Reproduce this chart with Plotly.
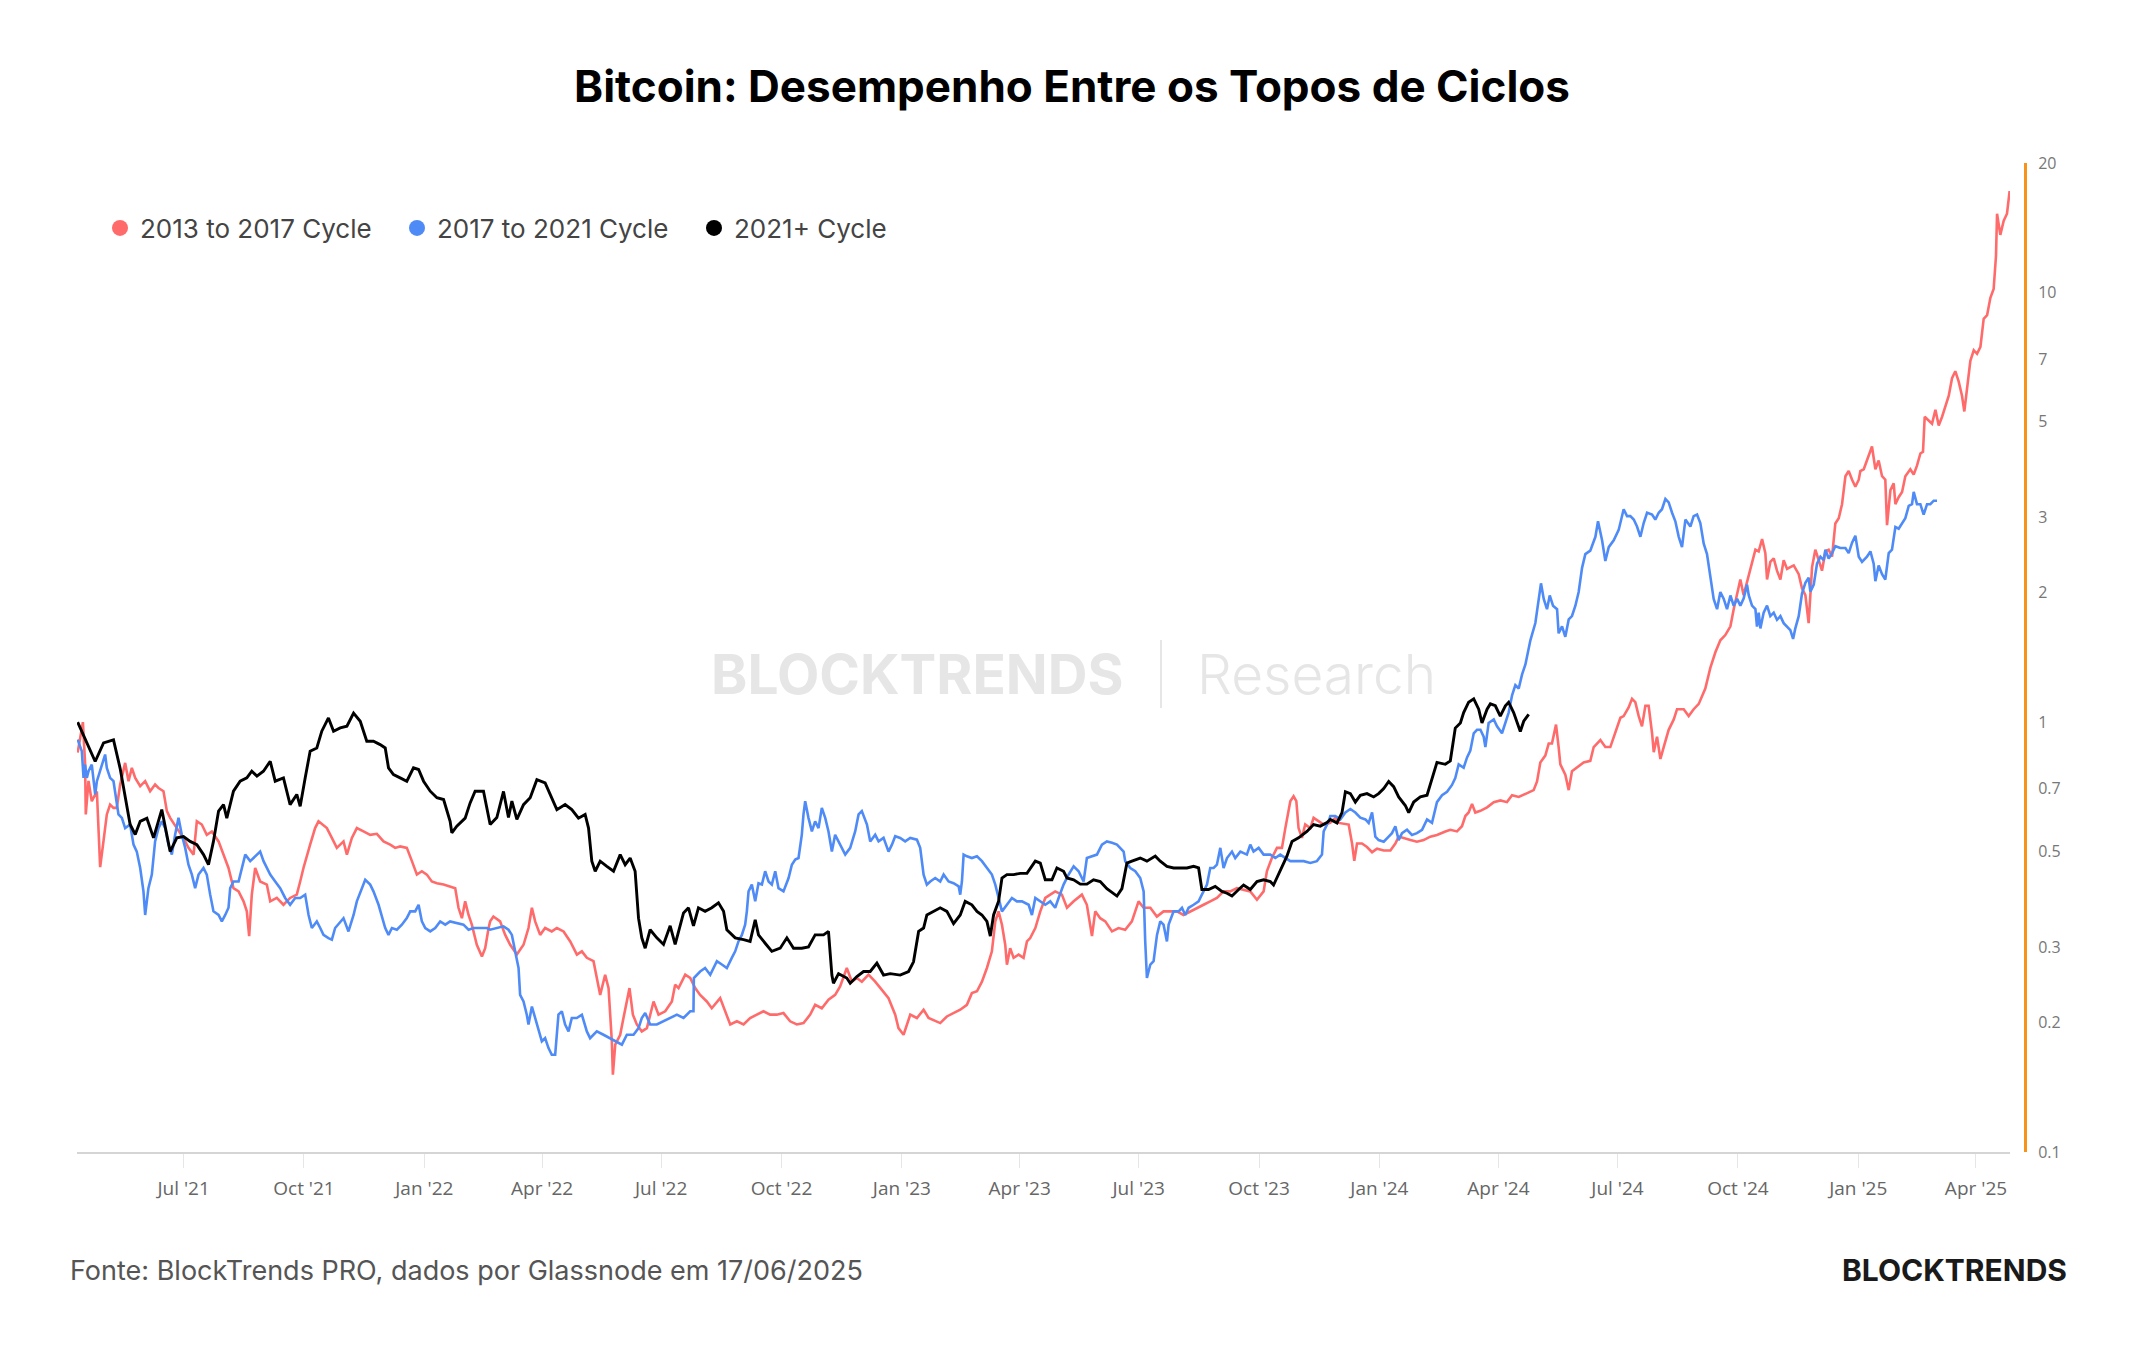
import pandas as pd
import plotly.graph_objects as go

START = pd.Timestamp("2021-04-11")

# ---------------- data: days since cycle top, value relative to top ----------------
red_days = [0, 1.9, 4.0, 5.7, 6.2, 8.3, 10.8, 14.7, 17.2, 19.8, 22.3, 24.8, 27.4, 29.9, 32.5, 36.3, 38.9, 41.4, 44.0, 47.8,
            51.6, 55.4, 59.2, 61.8, 65.6, 68.2, 70.7, 75.8, 80.9, 84.7, 88.6, 91.1, 94.9, 98.7, 102.6, 107.7, 111.5, 115.3,
            119.1, 123.0, 126.8, 129.3, 131.1, 133.1, 135.7, 139.5, 144.6, 147.2, 152.2, 157.3, 162.4, 167.5, 170.1, 172.6,
            177.7, 181.5, 184.1, 190.5, 194.3, 198.1, 203.2, 205.8, 209.6, 213.4, 218.5, 223.6, 228.7, 233.8, 238.9, 242.7,
            246.5, 251.6, 255.5, 259.3, 263.1, 266.9, 270.7, 274.6, 279.7, 284.7, 288.6, 291.1, 293.7, 296.2, 298.8, 301.3,
            305.1, 309.0, 311.5, 314.1,
            315.3, 317.8, 322.9, 326.8, 330.6, 335.7, 340.8, 344.6, 347.2, 349.7, 353.5, 357.3, 362.4, 366.3, 371.4, 376.5,
            381.6, 385.4, 389.2, 394.3, 399.4, 403.2, 405.8, 408.3, 409.1, 410.9, 414.7, 417.2, 419.8, 421.8, 424.4, 427.4,
            431.2, 435.1, 440.2, 444.0, 449.1, 454.2, 456.7, 459.3, 464.4, 468.2, 472.0, 475.8, 480.9, 484.7, 491.1, 494.9,
            498.8, 503.9, 509.0, 514.0, 519.1, 524.2, 529.3, 534.4, 539.5, 544.6, 549.7, 554.8, 559.9, 563.7, 568.8, 573.9,
            579.0, 582.8, 587.9, 591.8, 595.6, 599.4, 604.5, 609.6, 614.7, 619.8, 624.9, 627.4, 631.3, 635.1,
            636.4, 641.5, 646.6, 650.4, 655.5, 659.3, 664.4, 669.5, 674.6, 679.7, 683.5, 687.4, 691.2, 695.0, 698.8, 701.4,
            703.9, 706.5, 709.0, 710.3, 712.8, 715.4, 719.2, 723.0, 725.6, 728.1, 732.0, 735.8, 739.6, 743.4, 747.2, 752.3,
            756.2, 761.3, 767.6, 771.4, 775.3, 777.8, 781.6, 785.5, 790.6, 795.6, 800.7, 805.8, 810.9, 814.8, 819.9, 824.9,
            830.0, 835.1, 840.2, 845.3, 850.4, 855.5, 860.6, 865.7, 870.8, 875.9, 881.0, 886.1, 891.2, 896.3, 901.4, 906.5,
            909.0, 912.8, 916.7, 920.5, 923.1, 926.9, 929.4, 931.5, 933.2, 935.8, 938.3, 942.2, 944.7, 948.5, 952.4, 957.4,
            961.3,
            963.9, 971.5, 974.1, 975.8, 977.9, 981.7, 985.5, 989.4, 993.2, 998.3, 1003.4, 1007.2, 1009.7, 1013.6, 1018.7,
            1023.7, 1028.8, 1033.9, 1039.0, 1045.4, 1049.2, 1054.3, 1058.1, 1060.7, 1063.2, 1065.8, 1068.3, 1072.2, 1077.3,
            1082.4, 1087.5, 1092.5, 1096.4, 1101.5, 1106.6, 1112.9, 1115.5, 1118.0, 1121.8, 1124.4, 1126.9, 1130.0, 1132.0,
            1133.3, 1137.1, 1139.7, 1142.2, 1147.3, 1151.1, 1156.2, 1158.8, 1163.9, 1167.7, 1171.5, 1174.1, 1179.2, 1181.7,
            1185.5, 1188.1, 1190.6, 1193.2, 1195.7, 1198.3, 1200.8, 1203.4, 1204.7, 1207.2, 1209.8, 1212.3, 1216.1, 1220.0,
            1222.5, 1227.6, 1231.4, 1235.2, 1239.1, 1244.1, 1248.0, 1251.8, 1255.6, 1259.4, 1263.3, 1265.8,
            1270.9, 1273.4, 1276.0, 1278.5, 1282.4, 1284.9, 1287.5, 1290.0, 1291.3, 1293.8, 1296.4, 1298.9, 1301.5, 1304.0,
            1306.6, 1309.1, 1311.7, 1315.5, 1318.0, 1320.6, 1323.1, 1325.7, 1328.2, 1330.8, 1333.3, 1335.9, 1338.4, 1341.0,
            1343.5, 1346.1, 1348.6, 1351.2, 1353.7, 1356.3, 1358.8, 1361.4, 1362.6, 1365.2, 1369.0, 1371.5, 1374.1, 1376.6,
            1379.2, 1381.7, 1383.0, 1385.6, 1388.1, 1389.4, 1391.9, 1394.5, 1397.0, 1400.8, 1403.4, 1405.9, 1408.5, 1410.5,
            1411.8, 1414.9, 1417.4, 1420.0, 1422.5, 1425.1, 1427.6, 1430.2, 1432.7, 1435.2, 1437.8, 1440.3, 1442.1, 1444.2,
            1446.7, 1449.3, 1451.8, 1454.4, 1456.9, 1459.5, 1462.0, 1464.5, 1466.3, 1467.1, 1469.6, 1472.2, 1474.7, 1476.7]
red_vals = [0.85, 0.92, 1.00, 0.80, 0.61, 0.73, 0.655, 0.69, 0.46, 0.53, 0.61, 0.643, 0.632, 0.632, 0.716, 0.804, 0.729, 0.783, 0.742, 0.71,
            0.729, 0.691, 0.716, 0.703, 0.691, 0.621, 0.599, 0.567, 0.538, 0.51, 0.492, 0.588, 0.578, 0.547, 0.557, 0.528, 0.492, 0.458,
            0.411, 0.404, 0.383, 0.363, 0.318, 0.397, 0.458, 0.426, 0.419, 0.383, 0.39, 0.376, 0.39, 0.397, 0.426, 0.458,
            0.519, 0.567, 0.588, 0.567, 0.538, 0.51, 0.528, 0.492, 0.538, 0.567, 0.557, 0.547, 0.55, 0.528, 0.519, 0.51,
            0.514, 0.51, 0.475, 0.442, 0.45, 0.442, 0.426, 0.422, 0.419, 0.415, 0.411, 0.37, 0.35, 0.383, 0.356, 0.338,
            0.3035, 0.285, 0.298, 0.332,
            0.344, 0.353, 0.344, 0.32, 0.3035, 0.288, 0.3035, 0.332, 0.37, 0.344, 0.32, 0.332, 0.326, 0.332, 0.326, 0.309,
            0.288, 0.293, 0.283, 0.278, 0.232, 0.2585, 0.2406, 0.181, 0.1513, 0.1777, 0.1874, 0.205, 0.224, 0.2406, 0.2087, 0.198,
            0.1908, 0.1942, 0.224, 0.2087, 0.2125, 0.224, 0.245, 0.2406, 0.2585, 0.254, 0.2406, 0.232, 0.224, 0.216, 0.228, 0.2125,
            0.198, 0.2014, 0.198, 0.205, 0.2087, 0.2125, 0.2087, 0.2087, 0.2105, 0.2014, 0.198, 0.1995, 0.2087, 0.22, 0.216, 0.226,
            0.232, 0.2427, 0.268, 0.249, 0.254, 0.249, 0.2585, 0.249, 0.2384, 0.228, 0.2087, 0.1942, 0.1874, 0.2014,
            0.2087, 0.205, 0.2143, 0.205, 0.2014, 0.1995, 0.2067, 0.2105, 0.2143, 0.22, 0.2342, 0.2365, 0.249, 0.268, 0.293, 0.344,
            0.363, 0.338, 0.3035, 0.2727, 0.298, 0.283, 0.288, 0.283, 0.309, 0.3146, 0.332, 0.363, 0.39, 0.397, 0.404, 0.397,
            0.37, 0.383, 0.397, 0.376, 0.318, 0.363, 0.35, 0.344, 0.326, 0.332, 0.329, 0.344, 0.383, 0.37, 0.37, 0.353,
            0.363, 0.363, 0.363, 0.356, 0.363, 0.37, 0.376, 0.383, 0.39, 0.404, 0.404, 0.411, 0.4077, 0.404, 0.3864, 0.404,
            0.4498, 0.483, 0.51, 0.51, 0.567, 0.655, 0.6725, 0.655, 0.567, 0.538, 0.578, 0.567, 0.599, 0.588, 0.578, 0.583,
            0.599,
            0.583, 0.578, 0.522, 0.476, 0.522, 0.522, 0.5125, 0.4984, 0.5078, 0.503, 0.503, 0.522, 0.5417, 0.5367, 0.5317,
            0.527, 0.5317, 0.5417, 0.5467, 0.557, 0.562, 0.557, 0.5727, 0.605, 0.6164, 0.6456, 0.6164, 0.622, 0.6336,
            0.6516, 0.6577, 0.6516, 0.676, 0.6698, 0.6823, 0.695, 0.728, 0.806, 0.836, 0.892, 0.892, 0.987, 0.8753,
            0.798, 0.755, 0.695, 0.769, 0.791, 0.806, 0.813, 0.8753, 0.9085, 0.8753, 0.8753, 0.925, 1.024, 1.033,
            1.082, 1.133, 1.113, 1.033, 0.978, 1.092, 1.092, 0.9425, 0.8517, 0.925, 0.821, 0.8753, 0.96, 1.015,
            1.072, 1.072, 1.033, 1.072, 1.103, 1.198, 1.339, 1.454, 1.551, 1.595, 1.671, 1.832,
            2.148, 1.975, 2.128, 2.252, 2.519, 2.496, 2.666, 2.474, 2.148, 2.36, 2.404, 2.252, 2.148, 2.382,
            2.273, 2.295, 2.316, 2.21, 2.05, 1.975, 1.7, 2.295, 2.519, 2.382, 2.252, 2.496, 2.519, 2.427,
            2.9, 2.983, 3.215, 3.735, 3.841, 3.666, 3.531, 3.666, 3.841, 3.877, 4.18, 4.38, 3.877, 4.064,
            3.735, 3.666, 2.873, 3.465, 3.597, 3.215, 3.337, 3.433, 3.735, 3.877, 3.771, 3.952, 4.219, 4.259,
            5.136, 5.041, 4.948, 5.333, 4.901, 5.136, 5.434, 5.748, 6.314, 6.555, 6.197, 5.748, 5.284, 6.081,
            6.934, 7.335, 7.198, 7.473, 8.684, 8.848, 9.716, 10.18, 12.17, 15.24, 13.61, 14.68, 15.24, 17.21]

blue_days = [0, 3.2, 4.5, 5.7, 7.0, 8.3, 10.8, 12.1, 13.4, 14.7, 18.5, 21.0, 22.3, 24.8, 27.4, 31.2, 33.8, 36.3, 40.1, 42.7,
             45.2, 47.8, 50.3, 51.6, 54.1, 56.7, 59.2, 61.8, 64.3, 66.9, 69.4, 72.0, 74.5, 77.1, 79.6, 82.2, 84.7, 87.3,
             89.8, 92.4, 96.2, 98.7, 101.3, 103.8, 107.7, 110.2, 112.8, 115.3, 116.6, 119.1, 123.0, 125.5, 128.1, 131.9,
             135.7, 139.5, 142.1, 144.6, 147.2, 151.0, 154.8, 158.6, 162.4, 166.3, 170.1, 173.9, 176.5, 179.0, 182.8, 185.4,
             187.9, 191.7, 194.3, 196.8, 200.7, 203.2, 207.0, 210.9, 213.4, 217.2, 219.8, 223.6, 226.1, 230.0, 232.5, 235.1,
             237.6, 240.2, 244.0, 247.8, 251.6, 254.2, 258.0, 260.6, 263.1, 265.7, 269.5, 273.3, 277.1, 281.0, 284.7, 289.8,
             294.9, 298.8, 302.6, 307.7, 312.7,
             315.3, 320.4, 325.5, 329.3, 331.9, 334.4, 337.0, 338.2, 340.8, 343.3, 344.6, 347.2, 349.7, 352.2, 354.8, 357.3,
             359.9, 362.4, 365.0, 367.5, 370.1, 372.6, 375.2, 377.7, 381.5, 385.4, 389.2, 391.7, 396.8, 401.9, 407.0, 412.1,
             416.0, 419.8, 424.9, 428.7, 431.2, 433.8, 437.6, 442.7, 447.8, 452.9, 458.0, 463.1, 468.2, 470.7, 471.0, 475.8,
             479.6, 483.5, 488.6, 492.4, 496.2, 500.0, 502.6, 505.1, 507.7, 510.2, 511.5, 512.8, 515.3, 517.9, 520.4, 523.0,
             525.5, 528.1, 530.6, 533.2, 535.7, 539.5, 543.4, 545.9, 548.5, 551.0, 553.5, 554.8, 556.1, 558.6, 561.2, 563.7,
             566.3, 568.8, 571.4, 573.9, 576.5, 579.0, 581.6, 584.1, 586.7, 590.5, 594.3, 596.9, 599.4, 603.3, 605.8, 609.6,
             612.2, 616.0, 619.8, 622.4, 624.9, 628.7, 632.5,
             636.4, 641.5, 644.0, 646.6, 649.1, 651.7, 655.5, 659.3, 661.9, 665.7, 669.5, 673.4, 674.6, 675.9, 677.2, 679.7,
             683.5, 687.4, 691.2, 695.0, 698.8, 701.4, 703.9, 706.5, 710.3, 714.1, 717.9, 721.8, 726.9, 729.4, 732.0, 735.8,
             739.6, 743.4, 747.2, 749.8, 753.6, 757.4, 761.3, 765.1, 768.9, 771.4, 775.3, 779.1, 782.9, 786.7, 790.6, 794.4,
             799.5, 800.7, 804.6, 808.4, 812.2, 814.8, 816.0, 817.3, 819.9, 822.4, 825.0, 827.5, 830.0, 832.6, 833.9, 837.7,
             841.5, 844.1, 846.6, 849.2, 853.0, 856.8, 859.3, 863.2, 865.7, 868.3, 870.8, 873.4, 875.9, 878.5, 882.3, 884.8,
             888.7, 893.7, 896.3, 898.8, 902.7, 906.5, 911.6, 915.4, 919.2, 923.1, 926.9, 932.0, 937.1, 942.2, 947.2, 951.1,
             952.4, 956.2,
             957.5, 961.3, 965.1, 969.0, 972.8, 976.6, 980.4, 984.3, 986.8, 989.4, 991.9, 994.4, 998.3, 1002.1, 1004.6,
             1007.2, 1009.7, 1012.3, 1016.1, 1019.9, 1023.7, 1027.6, 1031.4, 1035.2, 1039.0, 1042.9, 1046.7, 1050.5, 1053.0,
             1055.6, 1059.4, 1062.0, 1064.5, 1067.1, 1069.6, 1072.2, 1074.7, 1076.0, 1078.5, 1082.4, 1084.9, 1088.7, 1091.3,
             1093.8, 1096.4, 1098.9, 1101.5, 1104.0, 1106.6, 1110.4, 1114.2, 1116.8, 1118.5, 1120.6, 1123.1, 1125.2, 1127.7,
             1130.8, 1132.0, 1134.6, 1137.1, 1139.7, 1142.2, 1144.8, 1147.3, 1149.9, 1152.4, 1156.2, 1160.1, 1162.1, 1165.2,
             1167.7, 1170.3, 1174.1, 1177.9, 1181.7, 1184.3, 1186.8, 1189.4, 1191.9, 1194.5, 1197.0, 1199.6, 1203.4, 1205.9,
             1208.5, 1211.0, 1213.6, 1216.1, 1218.7, 1221.2, 1223.8, 1226.3, 1228.9, 1232.7, 1235.2, 1237.8, 1240.3, 1242.9,
             1245.4, 1248.0, 1250.5, 1253.1, 1255.6, 1258.2, 1260.7, 1263.3, 1265.8, 1268.4,
             1270.9, 1273.4, 1276.0, 1277.3, 1279.8, 1282.4, 1283.6, 1284.9, 1286.2, 1288.7, 1291.3, 1293.8, 1296.4, 1298.9,
             1301.5, 1304.0, 1306.6, 1309.1, 1311.2, 1312.9, 1315.5, 1318.0, 1320.6, 1323.1, 1324.4, 1327.0, 1329.5, 1332.1,
             1334.6, 1335.9, 1338.4, 1341.0, 1343.5, 1347.3, 1351.2, 1353.7, 1356.3, 1358.8, 1361.4, 1363.9, 1367.7, 1370.3,
             1372.8, 1374.1, 1376.6, 1379.2, 1381.7, 1384.3, 1386.8, 1389.4, 1391.9, 1394.5, 1397.0, 1399.6, 1402.1, 1403.4,
             1405.9, 1408.5, 1411.0, 1413.6, 1416.1, 1418.7, 1421.2]
blue_vals = [0.911, 0.856, 0.742, 0.797, 0.742, 0.769, 0.797, 0.742, 0.679, 0.729, 0.797, 0.841, 0.783, 0.742, 0.729, 0.61, 0.599, 0.567, 0.578, 0.519,
             0.5, 0.458, 0.404, 0.356, 0.411, 0.442, 0.528, 0.567, 0.588, 0.567, 0.519, 0.492, 0.547, 0.599, 0.547, 0.51, 0.466, 0.442,
             0.411, 0.442, 0.458, 0.442, 0.397, 0.363, 0.356, 0.344, 0.356, 0.37, 0.411, 0.426, 0.426, 0.458, 0.492, 0.475,
             0.4875, 0.5, 0.475, 0.458, 0.442, 0.426, 0.411, 0.39, 0.376, 0.39, 0.39, 0.397, 0.356, 0.332, 0.344, 0.332,
             0.32, 0.3146, 0.312, 0.332, 0.344, 0.35, 0.326, 0.356, 0.383, 0.411, 0.43, 0.419, 0.404, 0.376, 0.356, 0.332,
             0.32, 0.332, 0.329, 0.338, 0.35, 0.363, 0.363, 0.376, 0.344, 0.332, 0.326, 0.332, 0.344, 0.338, 0.344, 0.341,
             0.338, 0.329, 0.332, 0.332, 0.332,
             0.329, 0.332, 0.335, 0.329, 0.32, 0.293, 0.268, 0.232, 0.224, 0.2087, 0.198, 0.218, 0.205, 0.1942, 0.181, 0.184,
             0.1745, 0.1684, 0.1684, 0.2087, 0.2125, 0.198, 0.1908, 0.205, 0.205, 0.2087, 0.1908, 0.184, 0.1908, 0.1874, 0.184, 0.181,
             0.1777, 0.1874, 0.1874, 0.1942, 0.205, 0.2105, 0.198, 0.198, 0.2014, 0.205, 0.2087, 0.205, 0.2125, 0.2125, 0.254, 0.263,
             0.268, 0.2585, 0.278, 0.273, 0.268, 0.283, 0.293, 0.309, 0.32, 0.338, 0.363, 0.404, 0.419, 0.383, 0.422, 0.419,
             0.45, 0.426, 0.419, 0.45, 0.411, 0.404, 0.434, 0.466, 0.479, 0.483, 0.547, 0.61, 0.655, 0.599, 0.557, 0.588,
             0.567, 0.632, 0.599, 0.557, 0.5, 0.547, 0.528, 0.51, 0.492, 0.51, 0.557, 0.61, 0.621, 0.578, 0.528, 0.547,
             0.528, 0.538, 0.5, 0.519, 0.543, 0.538, 0.528,
             0.538, 0.533, 0.51, 0.442, 0.419, 0.426, 0.434, 0.426, 0.442, 0.426, 0.422, 0.415, 0.397, 0.426, 0.492, 0.4875,
             0.483, 0.4875, 0.475, 0.458, 0.442, 0.419, 0.39, 0.363, 0.376, 0.39, 0.383, 0.383, 0.376, 0.356, 0.39, 0.383,
             0.376, 0.383, 0.37, 0.39, 0.419, 0.442, 0.462, 0.45, 0.426, 0.483, 0.4875, 0.492, 0.519, 0.528, 0.524, 0.519,
             0.5, 0.475, 0.458, 0.45, 0.434, 0.404, 0.309, 0.254, 0.273, 0.278, 0.32, 0.344, 0.338, 0.309, 0.338, 0.363,
             0.363, 0.37, 0.356, 0.37, 0.376, 0.383, 0.397, 0.419, 0.458, 0.458, 0.466, 0.51, 0.458, 0.483, 0.5, 0.483,
             0.5, 0.492, 0.519, 0.5, 0.51, 0.492, 0.492, 0.483, 0.492, 0.483, 0.475, 0.475, 0.475, 0.4705, 0.475, 0.492,
             0.557, 0.588,
             0.605, 0.605, 0.594, 0.6164, 0.628, 0.6164, 0.5995, 0.594, 0.583, 0.6164, 0.5417, 0.5317, 0.527, 0.5417, 0.5518,
             0.5727, 0.5317, 0.5518, 0.562, 0.5467, 0.5518, 0.562, 0.594, 0.583, 0.6516, 0.676, 0.689, 0.7145, 0.741,
             0.798, 0.7835, 0.828, 0.8594, 0.9425, 0.96, 0.96, 0.925, 0.8753, 0.996, 1.015, 0.978, 0.9425, 0.996,
             1.053, 1.155, 1.22, 1.198, 1.29, 1.363, 1.551, 1.701, 1.936, 2.104, 1.936, 1.832, 1.972, 1.866,
             1.832, 1.61, 1.671, 1.58, 1.734, 1.766, 1.866, 2.009, 2.286, 2.461, 2.507, 2.7, 2.934, 2.651,
             2.372, 2.554, 2.651, 2.801, 3.129, 3.016, 3.016, 2.961, 2.853, 2.7, 2.907, 3.071, 3.043, 2.961,
             3.071, 3.129, 3.307, 3.247, 3.071, 2.934, 2.7, 2.554, 2.961, 2.853, 3.016, 3.043, 2.907, 2.603,
             2.461, 2.203, 1.936, 1.832, 2.009, 1.936, 1.832, 1.972, 1.866, 1.936,
             1.867, 1.939, 2.089, 1.975, 1.867, 1.832, 1.668, 1.798, 1.653, 1.798, 1.867, 1.765, 1.798, 1.731,
             1.765, 1.7, 1.668, 1.637, 1.562, 1.653, 1.765, 1.993, 2.109, 2.169, 2.012, 2.089, 2.338, 2.427,
             2.382, 2.519, 2.404, 2.474, 2.567, 2.543, 2.543, 2.474, 2.616, 2.716, 2.427, 2.36, 2.427, 2.496,
             2.338, 2.129, 2.316, 2.21, 2.148, 2.474, 2.519, 2.846, 2.82, 2.9, 2.983, 3.185, 3.215, 3.433,
             3.215, 3.215, 3.04, 3.215, 3.215, 3.276, 3.276]

black_days = [0, 13.4, 19.8, 27.4, 32.5, 36.3, 40.1, 44.0, 47.8, 52.9, 58.0, 64.3, 68.2, 70.7, 75.8, 80.9, 86.0, 91.1, 96.2,
              100.0, 103.8, 107.7, 111.5, 114.0, 119.1, 124.2, 129.3, 133.1, 137.0, 142.0, 147.2, 151.0, 157.3, 162.4, 167.5,
              170.1, 173.9, 177.7, 182.8, 186.6, 191.7, 195.6, 200.7, 205.8, 210.9, 216.0, 221.0, 226.1, 231.2, 235.1, 237.6,
              241.4, 246.5, 251.6, 256.7, 260.6, 264.4, 269.5, 274.6, 279.7, 284.7, 286.0, 289.8, 296.2, 300.0, 303.8, 310.2,
              314.1,
              315.3, 320.4, 325.5, 329.3, 331.9, 335.7, 340.8, 345.9, 351.0, 357.3, 361.2, 366.3, 372.6, 377.7, 382.8, 387.9,
              390.5, 393.0, 395.6, 399.4, 404.5, 409.6, 414.7, 418.5, 422.3, 426.1, 428.7, 431.2, 433.8, 437.6, 442.7, 447.8,
              452.9, 456.7, 463.1, 466.9, 470.7, 474.5, 479.6, 484.7, 489.8, 493.7, 496.2, 502.6, 509.0, 514.0, 517.9, 520.4,
              525.5, 530.6, 537.0, 542.1, 547.2, 553.5, 558.6, 563.7, 570.1, 573.9, 576.5, 577.7, 581.6, 587.9, 590.5, 595.6,
              600.7, 605.8, 610.9, 616.0, 621.1, 628.7, 635.1,
              638.9, 642.8, 646.6, 649.1, 654.2, 659.3, 664.4, 669.5, 674.6, 678.4, 683.5, 687.4, 691.2, 695.0, 697.6, 700.1,
              703.9, 706.5, 710.3, 715.4, 720.5, 725.6, 732.0, 735.8, 739.6, 744.7, 748.5, 753.6, 756.2, 761.3, 766.4, 771.4,
              776.5, 781.6, 786.7, 791.8, 794.4, 798.2, 802.0, 805.8, 812.2, 817.3, 823.7, 827.5, 832.6, 837.7, 842.8, 847.9,
              853.0, 856.8, 859.3, 864.4, 869.5, 874.6, 878.5, 882.3, 887.4, 891.2, 896.3, 901.4, 906.5, 911.6, 914.1, 918.0,
              920.5, 924.3, 928.2, 933.2, 939.6, 944.7, 949.8, 954.9,
              957.5, 962.6, 966.4, 969.0, 972.8, 976.6, 980.4, 985.5, 990.6, 994.4, 998.3, 1002.1, 1005.9, 1009.7, 1014.8,
              1017.4, 1021.2, 1026.3, 1031.4, 1035.2, 1039.0, 1045.4, 1049.2, 1053.0, 1056.9, 1059.4, 1063.2, 1067.1, 1070.9,
              1073.4, 1077.3, 1079.8, 1083.6, 1087.4, 1091.3, 1093.8, 1097.6, 1102.7, 1105.3, 1109.1]
black_vals = [1.0, 0.81, 0.895, 0.91, 0.78, 0.667, 0.578, 0.548, 0.588, 0.598, 0.538, 0.626, 0.548, 0.50, 0.538, 0.542, 0.528, 0.519, 0.492,
              0.466, 0.528, 0.621, 0.643, 0.598, 0.691, 0.729, 0.742, 0.769, 0.749, 0.769, 0.811, 0.729, 0.742, 0.643, 0.679,
              0.637, 0.742, 0.856, 0.871, 0.953, 1.023, 0.953, 0.97, 0.979, 1.05, 1.005, 0.903, 0.903, 0.887, 0.871, 0.783,
              0.755, 0.742, 0.729, 0.783, 0.776, 0.729, 0.691, 0.667, 0.661, 0.588, 0.553, 0.573, 0.598, 0.649, 0.691, 0.691,
              0.61,
              0.578, 0.60, 0.69, 0.60, 0.655, 0.594, 0.643, 0.667, 0.735, 0.722, 0.679, 0.626, 0.643, 0.626, 0.598, 0.61,
              0.567, 0.475, 0.45, 0.475, 0.462, 0.45, 0.492, 0.466, 0.483, 0.45, 0.35, 0.315, 0.298, 0.329, 0.315, 0.304,
              0.336, 0.304, 0.36, 0.37, 0.336, 0.37, 0.363, 0.37, 0.38, 0.363, 0.329, 0.315, 0.312, 0.309, 0.347, 0.32,
              0.306, 0.293, 0.298, 0.315, 0.298, 0.298, 0.30, 0.32, 0.32, 0.326, 0.258, 0.247, 0.26, 0.254, 0.247, 0.256,
              0.263, 0.263, 0.275, 0.258, 0.26, 0.258, 0.263,
              0.277, 0.326, 0.332, 0.356, 0.363, 0.37, 0.363, 0.34, 0.356, 0.383, 0.376, 0.363, 0.356, 0.344, 0.318, 0.356,
              0.383, 0.434, 0.442, 0.442, 0.445, 0.445, 0.475, 0.47, 0.43, 0.43, 0.458, 0.45, 0.434, 0.43, 0.42, 0.42,
              0.43, 0.426, 0.41, 0.40, 0.394, 0.41, 0.47, 0.475, 0.483, 0.475, 0.488, 0.475, 0.462, 0.458, 0.458, 0.458,
              0.462, 0.458, 0.408, 0.408, 0.415, 0.404, 0.40, 0.394, 0.408, 0.418, 0.408, 0.426, 0.43, 0.426, 0.418, 0.442,
              0.462, 0.488, 0.528, 0.538, 0.557, 0.578, 0.573, 0.584,
              0.594, 0.583, 0.616, 0.689, 0.682, 0.652, 0.676, 0.682, 0.67, 0.682, 0.701, 0.728, 0.708, 0.67, 0.64,
              0.616, 0.652, 0.67, 0.676, 0.741, 0.806, 0.798, 0.813, 0.969, 0.996, 1.053, 1.113, 1.133, 1.072,
              0.996, 1.072, 1.103, 1.092, 1.033, 1.092, 1.113, 1.053, 0.951, 1.005, 1.043]

series_names = ["2013 to 2017 Cycle", "2017 to 2021 Cycle", "2021+ Cycle"]
series_colors = ["#FF6B6B", "#4F8BF7", "#000000"]

y_tickvals = [0.1, 0.2, 0.3, 0.5, 0.7, 1, 2, 3, 5, 7, 10, 20]
y_ticktext = ["0.1", "0.2", "0.3", "0.5", "0.7", "1", "2", "3", "5", "7", "10", "20"]

TITLE = "Bitcoin: Desempenho Entre os Topos de Ciclos"
SOURCE = "Fonte: BlockTrends PRO, dados por Glassnode em 17/06/2025"


def to_dates(days):
    return [START + pd.Timedelta(days=d) for d in days]


fig = go.Figure()
all_days = [red_days, blue_days, black_days]
all_vals = [red_vals, blue_vals, black_vals]
widths = [2.6, 2.6, 2.9]
for name, color, d, v, w in zip(series_names, series_colors, all_days, all_vals, widths):
    fig.add_trace(go.Scatter(x=to_dates(d), y=v, mode="lines", name=name,
                             line=dict(color=color, width=w), showlegend=False, hoverinfo="skip"))
for name, color in zip(series_names, series_colors):
    fig.add_trace(go.Scatter(x=[None], y=[None], mode="markers", name=name,
                             marker=dict(color=color, size=16, symbol="circle"), showlegend=True))

W, H = 2144, 1350
ML, MR, MT, MB = 77, 119, 163, 198
PW = W - ML - MR
PH = H - MT - MB
x_end_px = 2010


def px_x(x):
    return (x - ML) / PW


def px_y(y):
    return (H - MB - y) / PH


fig.update_layout(
    width=W, height=H,
    margin=dict(l=ML, r=MR, t=MT, b=MB, pad=0),
    paper_bgcolor="white", plot_bgcolor="white",
    font=dict(family="Inter, Open Sans, sans-serif"),
    title=dict(text="<b>" + TITLE + "</b>", x=0.5, xref="container", xanchor="center",
               y=1 - 87 / H, yref="container", yanchor="middle",
               font=dict(family="Inter", size=44, color="#000000")),
    legend=dict(orientation="h", x=px_x(100), xanchor="left", y=px_y(228), yanchor="middle",
                entrywidth=252, entrywidthmode="pixels", font=dict(family="Inter", size=26, color="#444444"),
                bgcolor="rgba(0,0,0,0)", itemsizing="trace", traceorder="normal"),
    xaxis=dict(type="date", domain=[0, px_x(x_end_px)],
               range=[START - pd.Timedelta(hours=12), START + pd.Timedelta(days=1477)],
               showgrid=False, zeroline=False, showline=True, linecolor="#D5D5D5", linewidth=2,
               ticks="outside", ticklen=14, tickwidth=1, tickcolor="#E6E6E6",
               ticklabelstandoff=4,
               tick0="2021-07-01", dtick="M3", tickformat="%b '%y",
               tickfont=dict(family="Open Sans", size=19, color="#666666")),
    yaxis=dict(type="log", range=[-1, 1.30103], side="right", anchor="free", position=1,
               showgrid=False, zeroline=False, showline=True, linecolor="#F7931A", linewidth=3,
               tickvals=y_tickvals, ticktext=y_ticktext, ticks="",
               ticklabelstandoff=8,
               tickfont=dict(family="Open Sans", size=16, color="#777777")),
    showlegend=True,
)

# footer + watermark
fig.add_annotation(text=SOURCE, xref="paper", yref="paper", x=px_x(68), y=px_y(1270),
                   xanchor="left", yanchor="middle", showarrow=False,
                   font=dict(family="Inter", size=27, color="#555555"))
fig.add_annotation(text="<b>BLOCKTRENDS</b>", xref="paper", yref="paper", x=px_x(2069), y=px_y(1270),
                   xanchor="right", yanchor="middle", showarrow=False,
                   font=dict(family="Inter", size=30, color="#1a1a1a", weight=900))
fig.add_annotation(text="<b>BLOCKTRENDS</b>", xref="paper", yref="paper", x=px_x(916.5), y=px_y(674),
                   xanchor="center", yanchor="middle", showarrow=False,
                   font=dict(family="Inter", size=55, color="#E6E6E6", weight=800))
fig.add_annotation(text="Research", xref="paper", yref="paper", x=px_x(1195), y=px_y(674),
                   xanchor="left", yanchor="middle", showarrow=False,
                   font=dict(family="Inter", size=55, color="#E6E6E6", weight=300))
fig.add_shape(type="line", xref="paper", yref="paper", x0=px_x(1161), x1=px_x(1161),
              y0=px_y(640), y1=px_y(708), line=dict(color="#E6E6E6", width=2), layer="below")

fig.write_html("out.html")
